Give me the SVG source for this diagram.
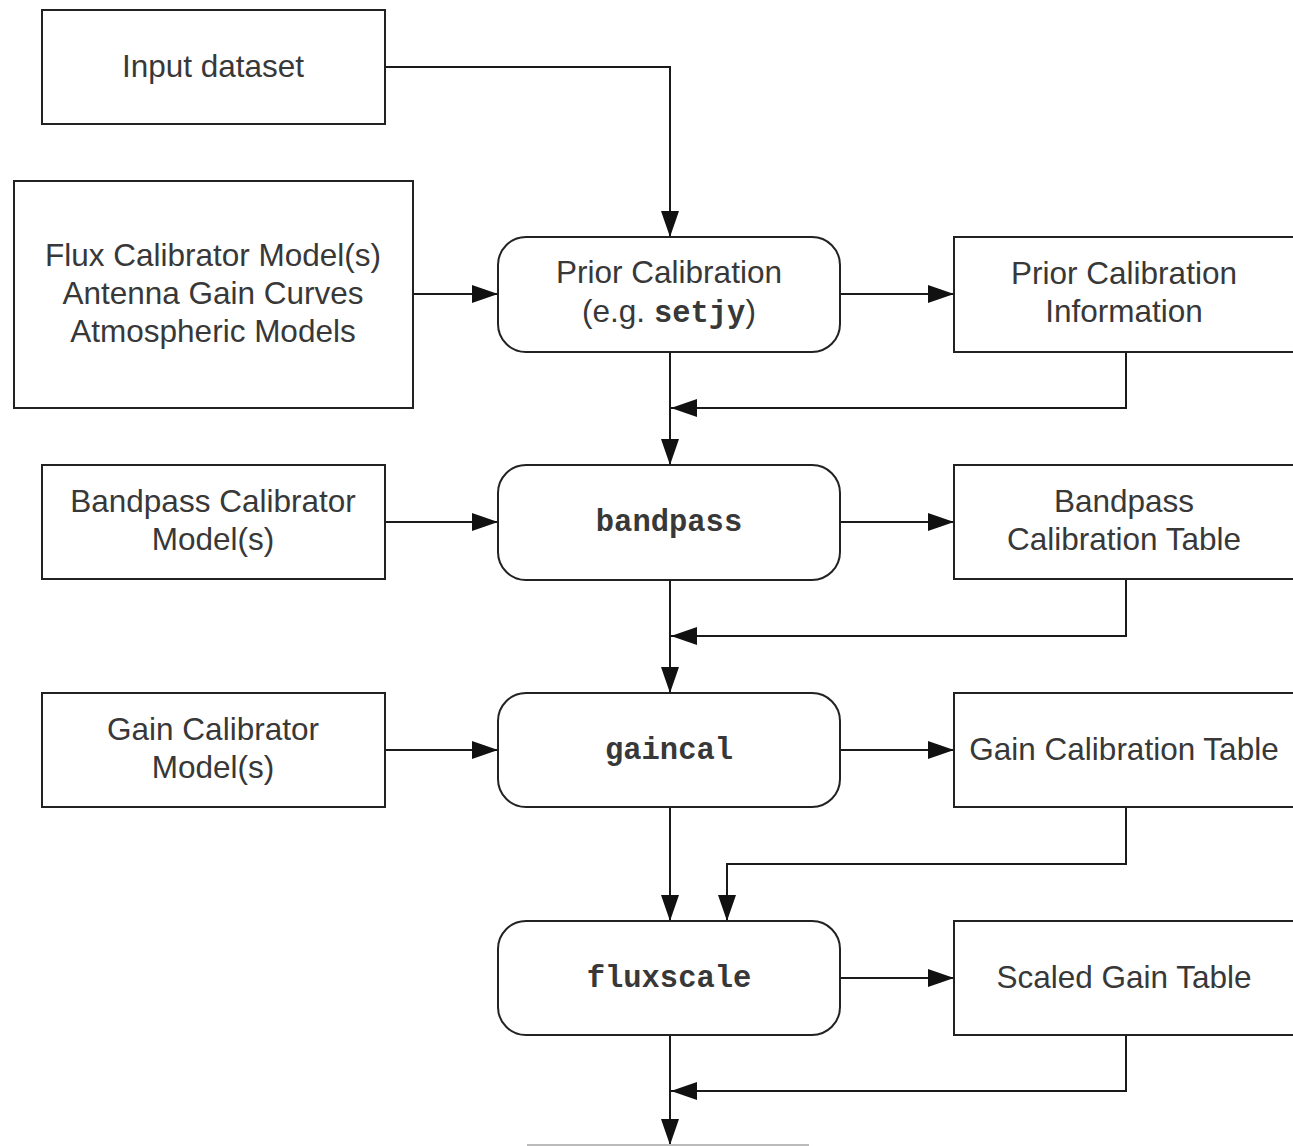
<svg xmlns="http://www.w3.org/2000/svg" width="1293" height="1146" viewBox="0 0 1293 1146">
<style>
.box{fill:#fff;stroke:#222;stroke-width:2}
.t{font-family:"Liberation Sans",Arial,sans-serif;font-size:31.5px;fill:#383838;text-anchor:middle}
.m{font-family:"Liberation Mono","Courier New",monospace;font-weight:bold;font-size:30.5px;fill:#383838}
.c{fill:none;stroke:#1a1a1a;stroke-width:2}
</style>
<defs>
<marker id="ah" markerUnits="userSpaceOnUse" markerWidth="26" markerHeight="18" refX="26" refY="9" orient="auto">
<path d="M0,0 L26,9 L0,18 z" fill="#111"/>
</marker>
</defs>
<rect width="1293" height="1146" fill="#fff"/>
<g id="connectors">
<path class="c" d="M385,67 H670 V237" marker-end="url(#ah)"/>
<path class="c" d="M413,294 H498" marker-end="url(#ah)"/>
<path class="c" d="M840,294 H954" marker-end="url(#ah)"/>
<path class="c" d="M670,352 V465" marker-end="url(#ah)"/>
<path class="c" d="M1126,352 V408 H671" marker-end="url(#ah)"/>
<path class="c" d="M385,522 H498" marker-end="url(#ah)"/>
<path class="c" d="M840,522 H954" marker-end="url(#ah)"/>
<path class="c" d="M670,580 V693" marker-end="url(#ah)"/>
<path class="c" d="M1126,579 V636 H671" marker-end="url(#ah)"/>
<path class="c" d="M385,750 H498" marker-end="url(#ah)"/>
<path class="c" d="M840,750 H954" marker-end="url(#ah)"/>
<path class="c" d="M670,807 V921" marker-end="url(#ah)"/>
<path class="c" d="M1126,807 V864 H727 V921" marker-end="url(#ah)"/>
<path class="c" d="M840,978 H954" marker-end="url(#ah)"/>
<path class="c" d="M670,1035 V1145" marker-end="url(#ah)"/>
<path class="c" d="M1126,1035 V1091 H671" marker-end="url(#ah)"/>
</g>
<g id="input">
<rect class="box" x="42" y="10" width="343" height="114"/>
<text class="t" x="213" y="77">Input dataset</text>
</g>
<g id="models">
<rect class="box" x="14" y="181" width="399" height="227"/>
<text class="t" x="213" y="266">Flux Calibrator Model(s)</text>
<text class="t" x="213" y="304">Antenna Gain Curves</text>
<text class="t" x="213" y="342">Atmospheric Models</text>
</g>
<g id="prior">
<rect class="box" x="498" y="237" width="342" height="115" rx="28"/>
<text class="t" x="669" y="283">Prior Calibration</text>
<text class="t" x="669" y="322">(e.g. <tspan class="m">setjy</tspan>)</text>
</g>
<g id="priorinfo">
<rect class="box" x="954" y="237" width="345" height="115"/>
<text class="t" x="1124" y="284">Prior Calibration</text>
<text class="t" x="1124" y="322">Information</text>
</g>
<g id="bpmodel">
<rect class="box" x="42" y="465" width="343" height="114"/>
<text class="t" x="213" y="512">Bandpass Calibrator</text>
<text class="t" x="213" y="550">Model(s)</text>
</g>
<g id="bandpass">
<rect class="box" x="498" y="465" width="342" height="115" rx="28"/>
<text class="m" x="669" y="531" text-anchor="middle">bandpass</text>
</g>
<g id="bptable">
<rect class="box" x="954" y="465" width="345" height="114"/>
<text class="t" x="1124" y="512">Bandpass</text>
<text class="t" x="1124" y="550">Calibration Table</text>
</g>
<g id="gmodel">
<rect class="box" x="42" y="693" width="343" height="114"/>
<text class="t" x="213" y="740">Gain Calibrator</text>
<text class="t" x="213" y="778">Model(s)</text>
</g>
<g id="gaincal">
<rect class="box" x="498" y="693" width="342" height="114" rx="28"/>
<text class="m" x="669" y="759" text-anchor="middle">gaincal</text>
</g>
<g id="gtable">
<rect class="box" x="954" y="693" width="345" height="114"/>
<text class="t" x="1124" y="760">Gain Calibration Table</text>
</g>
<g id="fluxscale">
<rect class="box" x="498" y="921" width="342" height="114" rx="28"/>
<text class="m" x="669" y="987" text-anchor="middle">fluxscale</text>
</g>
<g id="sgtable">
<rect class="box" x="954" y="921" width="345" height="114"/>
<text class="t" x="1124" y="988">Scaled Gain Table</text>
</g>
<g id="next">
<rect class="box" x="528" y="1145" width="280" height="40" style="stroke:#bbb"/>
</g>
</svg>
